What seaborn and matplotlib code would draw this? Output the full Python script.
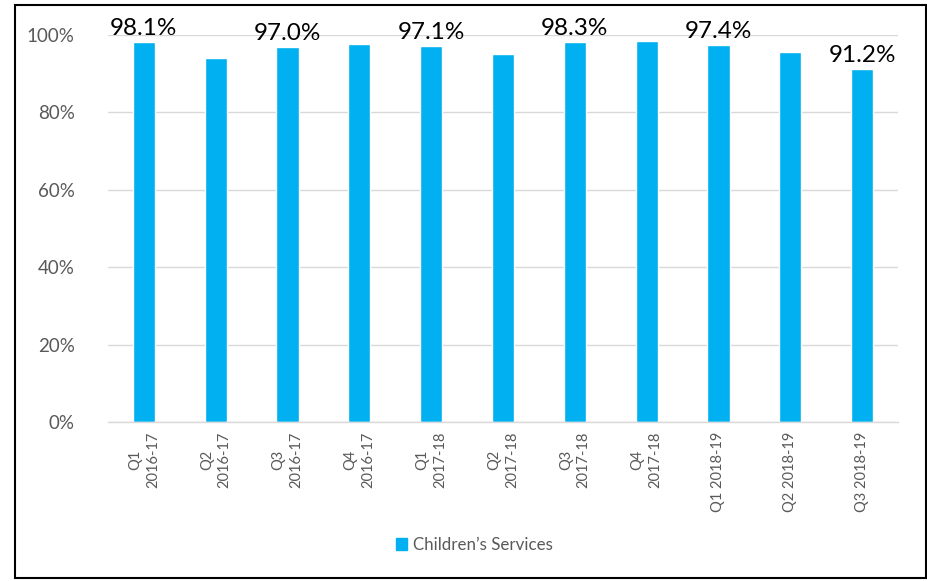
import matplotlib
matplotlib.use("Agg")
import matplotlib.pyplot as plt
import matplotlib.patches as mpatches
import seaborn as sns
import pandas as pd

categories = ["Q1\n2016-17", "Q2\n2016-17", "Q3\n2016-17", "Q4\n2016-17",
              "Q1\n2017-18", "Q2\n2017-18", "Q3\n2017-18", "Q4\n2017-18",
              "Q1 2018-19", "Q2 2018-19", "Q3 2018-19"]
values = [98.1, 94.0, 97.0, 97.7, 97.1, 95.2, 98.3, 98.5, 97.4, 95.6, 91.2]
labelled = [True, False, True, False, True, False, True, False, True, False, True]
series_name = "Children\u2019s Services"
yticks = [0, 20, 40, 60, 80, 100]
ytick_labels = ["0%", "20%", "40%", "60%", "80%", "100%"]

sns.set_theme(style="white")
plt.rcParams["font.family"] = ["Lato", "DejaVu Sans"]

df = pd.DataFrame({"period": categories, "value": values})

fig = plt.figure(figsize=(9.28, 5.81), dpi=100)
ax = fig.add_axes([108/928, 1-422/581, (898-108)/928, (422-35)/581])

sns.barplot(data=df, x="period", y="value", color="#00B0F0", width=0.31,
            saturation=1, ax=ax)

ax.set_ylim(0, 100)
ax.set_yticks(yticks)
ax.set_yticklabels(ytick_labels, fontsize=13.5, color="#595959")
ax.set_xticklabels(categories, rotation=90, fontsize=10.5, color="#595959",
                   ha="center", va="top", multialignment="center", linespacing=1.35)
ax.tick_params(axis="both", length=0)
ax.tick_params(axis="y", pad=24)
ax.tick_params(axis="x", pad=7)
ax.set_xlabel("")
ax.set_ylabel("")
ax.yaxis.grid(True, color="#D9D9D9", linewidth=1)
ax.set_axisbelow(True)
for s in ["top", "right", "left"]:
    ax.spines[s].set_visible(False)
ax.spines["bottom"].set_color("#D9D9D9")
ax.spines["bottom"].set_linewidth(1)

for i, (v, lab) in enumerate(zip(values, labelled)):
    if lab:
        ax.annotate(f"{v:.1f}%", xy=(i, v), xytext=(0, 7), textcoords="offset pixels",
                    ha="center", va="baseline", fontsize=17.5, color="black",
                    annotation_clip=False)

handle = mpatches.Patch(color="#00B0F0", label=series_name)
fig.legend(handles=[handle], loc="center", bbox_to_anchor=(474/928, 1-545/581),
           frameon=False, fontsize=12.2, handlelength=0.7, handleheight=0.7,
           handletextpad=0.3, labelcolor="#595959")

frame = mpatches.Rectangle((15/928, 1-578/581), (926-15)/928, (578-5)/581,
                           transform=fig.transFigure, fill=False,
                           edgecolor="black", linewidth=1.5)
fig.patches.append(frame)

fig.savefig("out.png", dpi=100)
